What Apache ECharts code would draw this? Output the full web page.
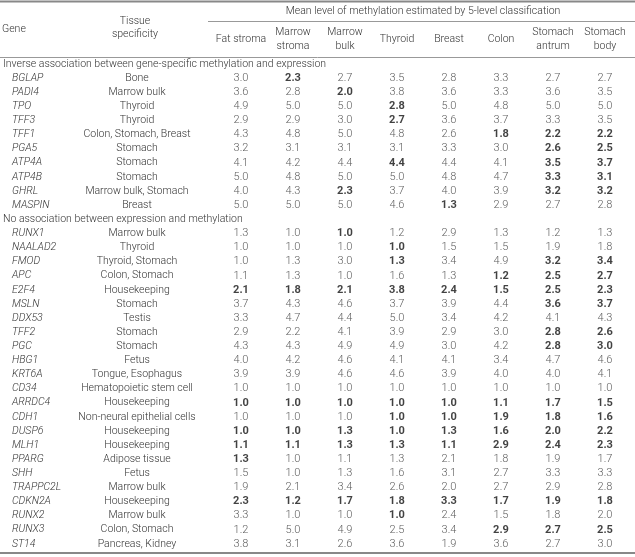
<!DOCTYPE html>
<html><head><meta charset="utf-8">
<script src="https://cdn.jsdelivr.net/npm/echarts@6/dist/echarts.min.js"></script>
<style>html,body{margin:0;padding:0;background:#fff}#c{width:635px;height:557px}</style>
</head><body><div id="c"></div>
<script>
// ---- data ----
const columns = ['Fat stroma','Marrow\nstroma','Marrow\nbulk','Thyroid','Breast','Colon','Stomach\nantrum','Stomach\nbody'];
const headerTitle = 'Mean level of methylation estimated by 5-level classification';
const sectionTitles = ['Inverse association between gene-specific methylation and expression',
                       'No association between expression and methylation'];

const inverseGenes = ['BGLAP','PADI4','TPO','TFF3','TFF1','PGA5','ATP4A','ATP4B','GHRL','MASPIN'];
const inverseTissues = ['Bone','Marrow bulk','Thyroid','Thyroid','Colon, Stomach, Breast','Stomach','Stomach','Stomach','Marrow bulk, Stomach','Breast'];
const inverseValues = [
  [3.0,2.3,2.7,3.5,2.8,3.3,2.7,2.7],
  [3.6,2.8,2.0,3.8,3.6,3.3,3.6,3.5],
  [4.9,5.0,5.0,2.8,5.0,4.8,5.0,5.0],
  [2.9,2.9,3.0,2.7,3.6,3.7,3.3,3.5],
  [4.3,4.8,5.0,4.8,2.6,1.8,2.2,2.2],
  [3.2,3.1,3.1,3.1,3.3,3.0,2.6,2.5],
  [4.1,4.2,4.4,4.4,4.4,4.1,3.5,3.7],
  [5.0,4.8,5.0,5.0,4.8,4.7,3.3,3.1],
  [4.0,4.3,2.3,3.7,4.0,3.9,3.2,3.2],
  [5.0,5.0,5.0,4.6,1.3,2.9,2.7,2.8]
];
const inverseBold = ['01000000','00100000','00010000','00010000','00000111','00000011','00010011','00000011','00100011','00001000'];

const noAssocGenes = ['RUNX1','NAALAD2','FMOD','APC','E2F4','MSLN','DDX53','TFF2','PGC','HBG1','KRT6A','CD34','ARRDC4','CDH1','DUSP6','MLH1','PPARG','SHH','TRAPPC2L','CDKN2A','RUNX2','RUNX3','ST14'];
const noAssocTissues = ['Marrow bulk','Thyroid','Thyroid, Stomach','Colon, Stomach','Housekeeping','Stomach','Testis','Stomach','Stomach','Fetus','Tongue, Esophagus','Hematopoietic stem cell','Housekeeping','Non-neural epithelial cells','Housekeeping','Housekeeping','Adipose tissue','Fetus','Marrow bulk','Housekeeping','Marrow bulk','Colon, Stomach','Pancreas, Kidney'];
const noAssocValues = [
  [1.3,1.0,1.0,1.2,2.9,1.3,1.2,1.3],
  [1.0,1.0,1.0,1.0,1.5,1.5,1.9,1.8],
  [1.0,1.3,3.0,1.3,3.4,4.9,3.2,3.4],
  [1.1,1.3,1.0,1.6,1.3,1.2,2.5,2.7],
  [2.1,1.8,2.1,3.8,2.4,1.5,2.5,2.3],
  [3.7,4.3,4.6,3.7,3.9,4.4,3.6,3.7],
  [3.3,4.7,4.4,5.0,3.4,4.2,4.1,4.3],
  [2.9,2.2,4.1,3.9,2.9,3.0,2.8,2.6],
  [4.3,4.3,4.9,4.9,3.0,4.2,2.8,3.0],
  [4.0,4.2,4.6,4.1,4.1,3.4,4.7,4.6],
  [3.9,3.9,4.6,4.6,3.9,4.0,4.0,4.1],
  [1.0,1.0,1.0,1.0,1.0,1.0,1.0,1.0],
  [1.0,1.0,1.0,1.0,1.0,1.1,1.7,1.5],
  [1.0,1.0,1.0,1.0,1.0,1.9,1.8,1.6],
  [1.0,1.0,1.3,1.0,1.3,1.6,2.0,2.2],
  [1.1,1.1,1.3,1.3,1.1,2.9,2.4,2.3],
  [1.3,1.0,1.1,1.3,2.1,1.8,1.9,1.7],
  [1.5,1.0,1.3,1.6,3.1,2.7,3.3,3.3],
  [1.9,2.1,3.4,2.6,2.0,2.7,2.9,2.8],
  [2.3,1.2,1.7,1.8,3.3,1.7,1.9,1.8],
  [3.3,1.0,1.0,1.0,2.4,1.5,1.8,2.0],
  [1.2,5.0,4.9,2.5,3.4,2.9,2.7,2.5],
  [3.8,3.1,2.6,3.6,1.9,3.6,2.7,3.0]
];
const noAssocBold = ['00100000','00010000','00010011','00000111','11111111','00000011','00000000','00000011','00000011','00000000','00000000','00000000','11111111','00011111','11111111','11111111','10000000','00000000','00000000','11111111','00010000','00000111','00000000'];

// ---- build rows ----
const rows = [];
function addSection(title, genes, tissues, values, bold) {
  rows.push({type:'section', text:title});
  genes.forEach((g,i)=>rows.push({type:'gene', gene:g, tissue:tissues[i], values:values[i], bold:bold[i]}));
}
addSection(sectionTitles[0], inverseGenes, inverseTissues, inverseValues, inverseBold);
addSection(sectionTitles[1], noAssocGenes, noAssocTissues, noAssocValues, noAssocBold);
const rowKeys = rows.map((r,i)=>String(i));

const cells = [];
rows.forEach((r,ri)=>{
  if (r.type !== 'gene') return;
  r.values.forEach((v,ci)=>{
    const b = r.bold[ci] === '1';
    cells.push({value:[ci, ri, v], label:{fontWeight: b ? 'bold' : 300, color: b ? '#111' : '#333'}});
  });
});

// ---- style ----
const FONT = "Roboto, 'Liberation Sans', Arial, sans-serif";
const FS = 10.5;
const TXT = '#333';
const LW = 300;
const W = 635, GRID_LEFT = 213, GRID_RIGHT = 4, GRID_TOP = 57, GRID_BOTTOM = 6;

const chart = echarts.init(document.getElementById('c'), null, {renderer:'canvas'});
function yAxisBase(extra) {
  return Object.assign({
    type:'category', data: rowKeys, inverse:true, position:'left',
    axisLine:{show:false}, axisTick:{show:false}, splitLine:{show:false}
  }, extra);
}
const baseLbl = {interval:0, color:TXT, fontSize:FS, fontFamily:FONT, fontWeight:LW};
chart.setOption({
  animation:false,
  textStyle:{fontFamily:FONT},
  grid:{left:GRID_LEFT, right:GRID_RIGHT, top:GRID_TOP, bottom:GRID_BOTTOM},
  xAxis:[{
    type:'category', data:columns, position:'top',
    axisLine:{show:false}, axisTick:{show:false},
    axisLabel:Object.assign({margin:18, verticalAlign:'middle', lineHeight:14}, baseLbl),
    name: headerTitle, nameLocation:'middle', nameGap:46,
    nameTextStyle:{color:TXT, fontSize:FS, fontFamily:FONT, fontWeight:LW, verticalAlign:'middle'}
  }],
  yAxis:[
    yAxisBase({axisLabel:Object.assign({margin:GRID_LEFT-10, align:'left', fontStyle:'italic',
      formatter:(v)=>{const r=rows[+v]; return r.type==='gene'? r.gene : '';}}, baseLbl)}),
    yAxisBase({axisLabel:Object.assign({margin:GRID_LEFT-135, align:'center',
      formatter:(v)=>{const r=rows[+v]; return r.type==='gene'? r.tissue : '';}}, baseLbl)}),
    yAxisBase({axisLabel:Object.assign({margin:GRID_LEFT-1, align:'left',
      formatter:(v)=>{const r=rows[+v]; return r.type==='section'? r.text : '';}}, baseLbl)})
  ],
  series:[{
    type:'scatter', xAxisIndex:0, yAxisIndex:0, symbolSize:0, silent:true,
    data: cells,
    label:{show:true, position:'inside', fontSize:FS+0.5, fontFamily:FONT,
      formatter:(p)=>p.value[2].toFixed(1)}
  }],
  graphic:[
    {type:'line', shape:{x1:0,y1:1.5,x2:W,y2:1.5}, style:{stroke:'#888', lineWidth:2}},
    {type:'line', shape:{x1:208,y1:21.5,x2:W,y2:21.5}, style:{stroke:'#999', lineWidth:1}},
    {type:'line', shape:{x1:0,y1:57.5,x2:W,y2:57.5}, style:{stroke:'#999', lineWidth:1}},
    {type:'line', shape:{x1:0,y1:553,x2:W,y2:553}, style:{stroke:'#888', lineWidth:2}},
    {type:'text', x:2, y:29, style:{text:'Gene', fill:TXT, font:LW+' '+FS+'px '+FONT, textAlign:'left', textVerticalAlign:'middle'}},
    {type:'text', x:135, y:28, style:{text:'Tissue\nspecificity', fill:TXT, font:LW+' '+FS+'px '+FONT, textAlign:'center', textVerticalAlign:'middle', lineHeight:13}}
  ]
});
</script></body></html>
